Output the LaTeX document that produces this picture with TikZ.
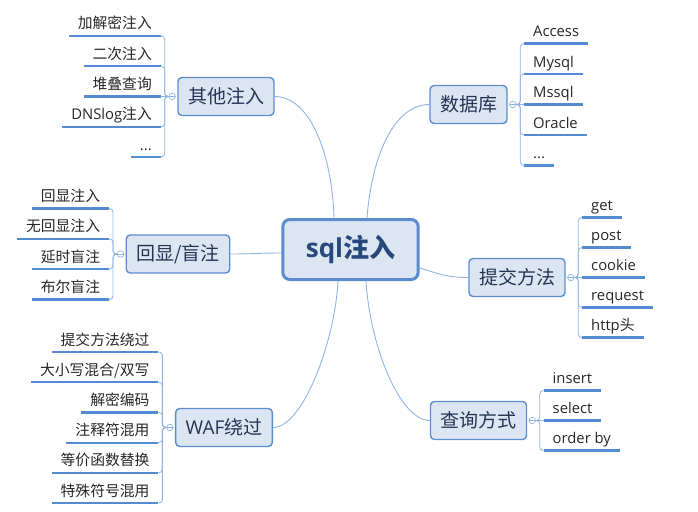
\documentclass[tikz,border=0pt]{standalone}
\usepackage{fontspec}
\setmainfont{Noto Sans CJK SC}
\newfontfamily\enfont{Open Sans}
\usepackage{tikz}
\usetikzlibrary{positioning}
\usetikzlibrary{calc}
\definecolor{boxfill}{RGB}{220,230,242}
\definecolor{boxline}{RGB}{92,140,208}
\definecolor{hubtext}{RGB}{40,72,125}
\definecolor{boxtext}{RGB}{36,52,84}
\definecolor{linkline}{RGB}{143,180,226}
\definecolor{leafline}{RGB}{84,140,212}
\newcommand{\en}[1]{{\enfont #1}}
\newcommand{\etcdots}{{\enfont ...}}

\begin{document}
\begin{tikzpicture}[x=1pt,y=-1pt,
  hub node/.style={rectangle,rounded corners=7pt,draw=boxline,line width=3pt,fill=boxfill,text=hubtext,font=\fontsize{26}{30}\selectfont\bfseries,inner xsep=23pt,minimum height=60pt},
  branch node/.style={rectangle,rounded corners=4pt,draw=boxline,line width=1.4pt,fill=boxfill,text=boxtext,font=\fontsize{19}{22}\selectfont,inner xsep=10pt,minimum height=38pt},
  leaf node/.style={font=\fontsize{14.8}{17}\selectfont,text=black!85,inner xsep=9pt,inner ysep=4pt,text depth=3pt,outer sep=0pt},
  leaf line/.style={draw=leafline,line width=2.2pt},
  link/.style={draw=linkline,line width=0.9pt},
  bracket/.style={draw=linkline,line width=0.8pt,rounded corners=3.5pt},
  knob/.style={circle,draw=linkline,fill=white,line width=0.7pt,inner sep=0pt,minimum size=6.5pt,
    path picture={\draw[linkline,line width=0.6pt] (path picture bounding box.west) -- (path picture bounding box.east);}}]
\useasboundingbox (0,0) rectangle (698,511);

% centre and branches
\node[hub node] (hub) at (350.5,249.5) {\en{sql}注入};
\node[branch node] (other) at (226,96.5) {其他注入};
\node[branch node] (db) at (468.5,104.5) {数据库};
\node[branch node] (echo) at (178,254) {回显/盲注};
\node[branch node] (submit) at (517,277.5) {提交方法};
\node[branch node] (query) at (478.5,420.5) {查询方式};
\node[branch node] (waf) at (224,427.5) {\en{WAF}绕过};

% collapse knobs
\node[knob,left=1.5pt of other] (ok) {};
\node[knob,right=1.5pt of db] (dk) {};
\node[knob,left=1.5pt of echo] (ek) {};
\node[knob,right=1.5pt of submit] (sk) {};
\node[knob,right=1.5pt of query] (qk) {};
\node[knob,left=1.5pt of waf] (wk) {};

% links to the centre
\draw[link] (other.east) .. controls +(35,0) and +(-2,-65) .. ([xshift=-16.5pt]hub.north);
\draw[link] (db.west) .. controls +(-34,0) and +(5,-65) .. ([xshift=16.5pt]hub.north);
\draw[link] (echo.east) .. controls +(22,0) and +(-22,0) .. ([yshift=-3.5pt]hub.west);
\draw[link] (submit.west) .. controls +(-25,0) and +(15,4) .. ([yshift=-18.5pt]hub.east);
\draw[link] (query.west) .. controls +(-30,0) and +(4,65) .. ([xshift=15.5pt]hub.south);
\draw[link] (waf.east) .. controls +(30,0) and +(-3,60) .. ([xshift=-12.5pt]hub.south);

% leaves
\foreach \t [count=\i] in {加解密注入,二次注入,堆叠查询,\en{DNSlog}注入,\etcdots} {
  \node[leaf node,anchor=south east] (o\i) at ($(ok.west)+(-7.8,{(\i-3)*30.25})$) {\t};
  \draw[leaf line] (o\i.south west) -- (o\i.south east);
  \ifnum\i=3 \draw[bracket] (ok.west) -- (o\i.south east);
  \else \draw[bracket] (ok.west) -- ++(-3.9,0) |- (o\i.south east); \fi
}
\foreach \t [count=\i] in {\en{Access},\en{Mysql},\en{Mssql},\en{Oracle},\etcdots} {
  \node[leaf node,anchor=south west] (d\i) at ($(dk.east)+(7.8,{(\i-3)*30.5})$) {\t};
  \draw[leaf line] (d\i.south west) -- (d\i.south east);
  \ifnum\i=3 \draw[bracket] (dk.east) -- (d\i.south west);
  \else \draw[bracket] (dk.east) -- ++(3.9,0) |- (d\i.south west); \fi
}
\foreach \t [count=\i] in {回显注入,无回显注入,延时盲注,布尔盲注} {
  \node[leaf node,anchor=south east] (e\i) at ($(ek.west)+(-7.8,{(\i-2.5)*30.3})$) {\t};
  \draw[leaf line] (e\i.south west) -- (e\i.south east);
  \draw[bracket] (ek.west) -- ++(-3.9,0) |- (e\i.south east);
}
\foreach \t [count=\i] in {\en{get},\en{post},\en{cookie},\en{request},\en{http}头} {
  \node[leaf node,anchor=south west] (s\i) at ($(sk.east)+(7.8,{(\i-3)*30})$) {\t};
  \draw[leaf line] (s\i.south west) -- (s\i.south east);
  \ifnum\i=3 \draw[bracket] (sk.east) -- (s\i.south west);
  \else \draw[bracket] (sk.east) -- ++(3.9,0) |- (s\i.south west); \fi
}
\foreach \t [count=\i] in {\en{insert},\en{select},\en{order by}} {
  \node[leaf node,anchor=south west] (q\i) at ($(qk.east)+(7.8,{(\i-2)*30})$) {\t};
  \draw[leaf line] (q\i.south west) -- (q\i.south east);
  \ifnum\i=2 \draw[bracket] (qk.east) -- (q\i.south west);
  \else \draw[bracket] (qk.east) -- ++(3.9,0) |- (q\i.south west); \fi
}
\foreach \t [count=\i] in {提交方法绕过,大小写混合/双写,解密编码,注释符混用,等价函数替换,特殊符号混用} {
  \node[leaf node,anchor=south east] (w\i) at ($(wk.west)+(-7.8,{(\i-3.5)*30.2})$) {\t};
  \draw[leaf line] (w\i.south west) -- (w\i.south east);
  \draw[bracket] (wk.west) -- ++(-3.9,0) |- (w\i.south east);
}
\end{tikzpicture}
\end{document}
